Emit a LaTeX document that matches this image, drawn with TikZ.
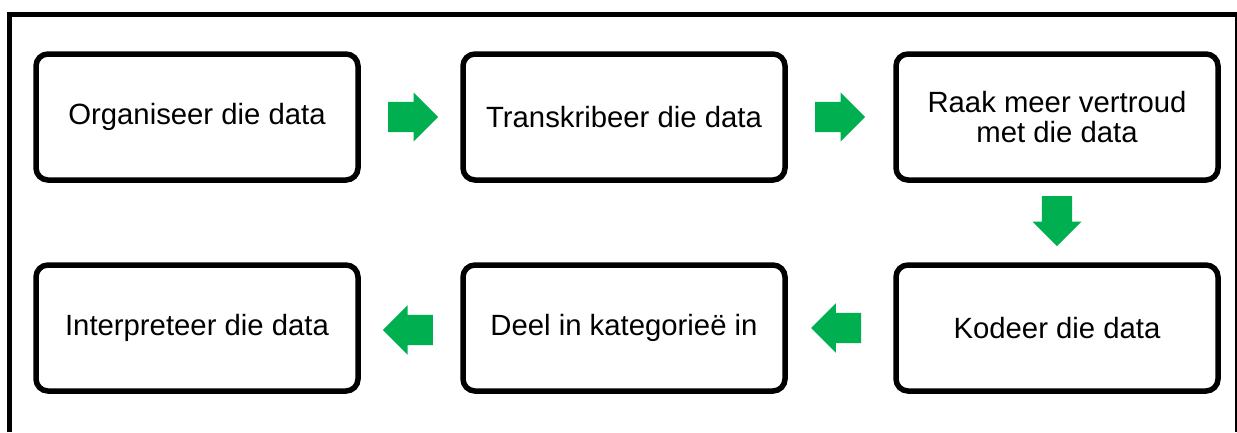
\documentclass[tikz,border=0pt]{standalone}
\usepackage{fontspec}
\setmainfont{Liberation Sans}
\usetikzlibrary{shapes.arrows,calc}
\definecolor{stepgreen}{HTML}{00B050}
\tikzset{
  stepbox/.style={draw, line width=5.5pt, rounded corners=12pt,
    minimum width=322pt, minimum height=126pt, align=center,
    font=\fontsize{29.3}{30}\selectfont},
  steparrow/.style={single arrow, fill=stepgreen, draw=none, inner sep=15pt,
    minimum height=50pt, single arrow head extend=9.5pt, anchor=tail}
}
\begin{document}
\begin{tikzpicture}[x=1pt,y=-1pt]
  \useasboundingbox (0,0) rectangle (1237,432);
  % frame
  \draw[line width=5pt] (9.5,432) -- (9.5,14.5) -- (1237,14.5);
  \draw[line width=1.5pt] (1236,14.5) -- (1236,432);
  % steps
  \draw
    (197,117) node[stepbox] (organiseer){Organiseer die data}
    (624,117) node[stepbox] (transkribeer){Transkribeer die data}
    (1057,117) node[stepbox] (vertroud){Raak meer vertroud\\met die data}
    (1057,328) node[stepbox] (kodeer){Kodeer die data}
    (624,328) node[stepbox] (kategorie){Deel in kategorieë in}
    (197,328) node[stepbox] (interpreteer){Interpreteer die data};
  % arrows
  \node[steparrow] at ($(organiseer.east)+(27.25,0)$) {};
  \node[steparrow] at ($(transkribeer.east)+(27.25,0)$) {};
  \node[steparrow, shape border rotate=270] at ($(vertroud.south)+(0,13.25)$) {};
  \node[steparrow, shape border rotate=180] at ($(kategorie.west)+(-27.25,2)$) {};
  \node[steparrow, shape border rotate=180] at ($(kodeer.west)+(-32,0)$) {};
\end{tikzpicture}
\end{document}
